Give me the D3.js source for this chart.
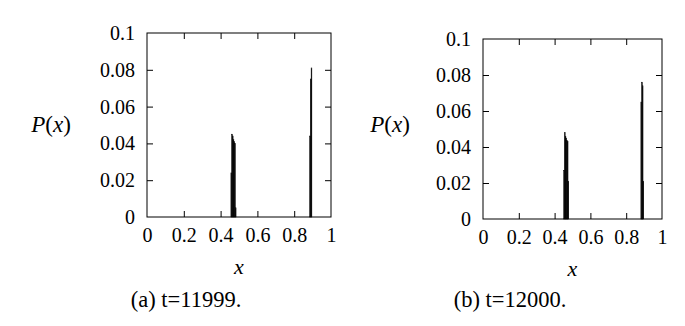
<!DOCTYPE html>
<html>
<head>
<meta charset="utf-8">
<script src="https://cdn.jsdelivr.net/npm/d3@7"></script>
<style>
  body { margin: 0; background: #fff; }
  svg { display: block; }
</style>
</head>
<body>
<svg width="685" height="326"></svg>
<script>
// histogram P(x) at two consecutive time steps, bins of width 0.004
const binWidth = 0.004;
const xTicks = [0, 0.2, 0.4, 0.6, 0.8, 1];
const yTicks = [0, 0.02, 0.04, 0.06, 0.08, 0.1];
const xTickLabels = ["0", "0.2", "0.4", "0.6", "0.8", "1"];
const yTickLabels = ["0", "0.02", "0.04", "0.06", "0.08", "0.1"];

// (a) t=11999
const binsA = [0.456, 0.460, 0.464, 0.468, 0.472, 0.476, 0.480, 0.884, 0.888, 0.892];
const probA = [0.024, 0.045, 0.044, 0.042, 0.041, 0.040, 0.005, 0.044, 0.075, 0.081];

// (b) t=12000
const binsB = [0.451, 0.455, 0.459, 0.463, 0.467, 0.471, 0.475, 0.882, 0.886, 0.890, 0.894];
const probB = [0.027, 0.048, 0.046, 0.045, 0.0435, 0.043, 0.021, 0.065, 0.076, 0.074, 0.021];

const captions = ["(a) t=11999.", "(b) t=12000."];

const FONT = "Liberation Serif";

const svg = d3.select("svg").attr("font-family", FONT);
svg.append("rect").attr("width", 685).attr("height", 326).attr("fill", "#fff");

// plot boxes measured off the page
const panels = [
  { left: 147, right: 331, top: 33, bottom: 217, ylabX: 51, capX: 186, bins: binsA, prob: probA, caption: captions[0] },
  { left: 483, right: 662, top: 39, bottom: 219, ylabX: 390, capX: 510, bins: binsB, prob: probB, caption: captions[1] }
];

const tickLen = 6;

panels.forEach(function (p) {
  const x = d3.scaleLinear().domain([0, 1]).range([p.left, p.right]);
  const y = d3.scaleLinear().domain([0, 0.1]).range([p.bottom, p.top]);
  const g = svg.append("g");

  // bars
  g.selectAll("rect.bin")
    .data(p.bins)
    .join("rect")
    .attr("class", "bin")
    .attr("x", d => x(d))
    .attr("width", d => x(d + binWidth) - x(d))
    .attr("y", (d, i) => y(p.prob[i]))
    .attr("height", (d, i) => y(0) - y(p.prob[i]))
    .attr("fill", "#000")
    .attr("stroke", "#000")
    .attr("stroke-width", 0.5);

  // mirrored inward ticks, gnuplot style
  const axB = d3.axisBottom(x).tickValues(xTicks).tickSize(-tickLen).tickFormat((d, i) => xTickLabels[i]).tickPadding(11);
  const axT = d3.axisTop(x).tickValues(xTicks).tickSize(-tickLen).tickFormat("");
  const axL = d3.axisLeft(y).tickValues(yTicks).tickSize(-tickLen).tickFormat((d, i) => yTickLabels[i]).tickPadding(12);
  const axR = d3.axisRight(y).tickValues(yTicks).tickSize(-tickLen).tickFormat("");

  const gb = g.append("g").attr("transform", `translate(0,${p.bottom})`).call(axB);
  const gt = g.append("g").attr("transform", `translate(0,${p.top})`).call(axT);
  const gl = g.append("g").attr("transform", `translate(${p.left},0)`).call(axL);
  const gr = g.append("g").attr("transform", `translate(${p.right},0)`).call(axR);
  [gb, gt, gl, gr].forEach(a => {
    a.attr("font-family", FONT).attr("font-size", 20);
    a.select(".domain").remove();
    a.selectAll("line").attr("stroke", "#000");
    a.selectAll("text").attr("fill", "#000");
  });
  // drop the ticks that sit on the frame corners
  [gb, gt].forEach(a => a.selectAll(".tick").filter(d => d === 0 || d === 1).select("line").remove());
  [gl, gr].forEach(a => a.selectAll(".tick").filter(d => d === 0 || d === 0.1).select("line").remove());

  g.append("rect")
    .attr("x", p.left).attr("y", p.top)
    .attr("width", p.right - p.left).attr("height", p.bottom - p.top)
    .attr("fill", "none").attr("stroke", "#000").attr("stroke-width", 1);

  // axis titles
  g.append("text")
    .attr("x", (p.left + p.right) / 2).attr("y", p.bottom + 57)
    .attr("text-anchor", "middle")
    .attr("font-family", FONT).attr("font-size", 22).attr("font-style", "italic")
    .text("x");

  const yl = g.append("text")
    .attr("x", p.ylabX).attr("y", 132)
    .attr("text-anchor", "middle")
    .attr("font-family", FONT).attr("font-size", 23);
  yl.append("tspan").attr("font-style", "italic").text("P");
  yl.append("tspan").text("(");
  yl.append("tspan").attr("font-style", "italic").text("x");
  yl.append("tspan").text(")");

  g.append("text")
    .attr("x", p.capX).attr("y", 307)
    .attr("text-anchor", "middle")
    .attr("font-family", FONT).attr("font-size", 22.5)
    .text(p.caption);
});
</script>
</body>
</html>
